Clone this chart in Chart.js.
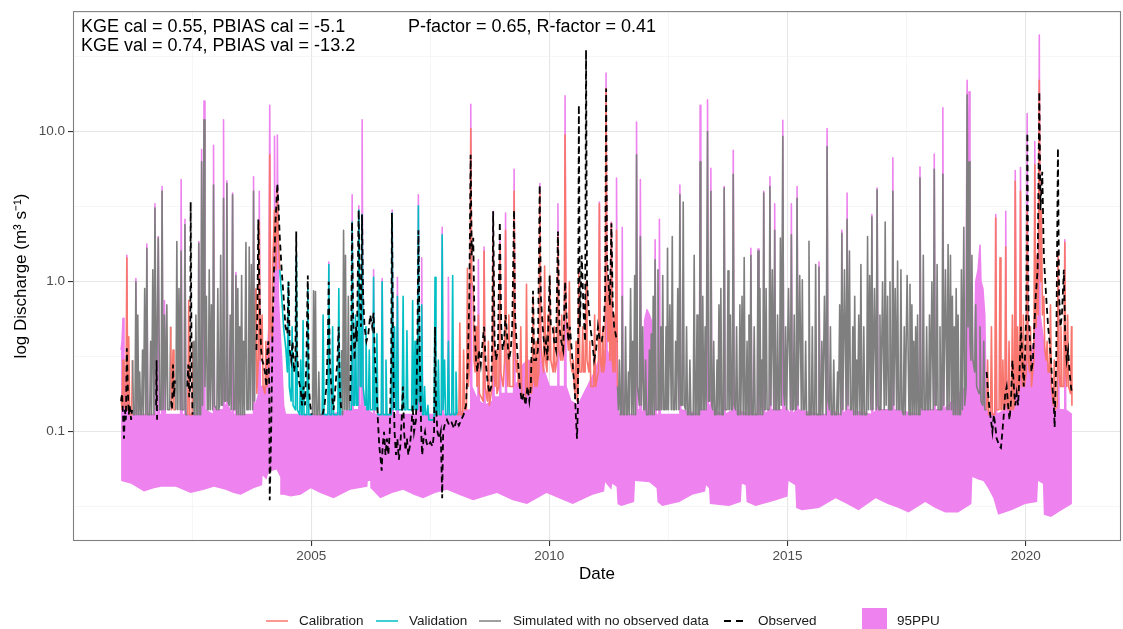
<!DOCTYPE html>
<html>
<head>
<meta charset="utf-8">
<script src="https://cdn.jsdelivr.net/npm/chart.js@4.4.1/dist/chart.umd.min.js"></script>
<style>
  html, body { margin: 0; padding: 0; background: #ffffff; }
  #wrap { width: 1123px; height: 629px; }
</style>
</head>
<body>
<div id="wrap"><canvas id="chart" width="1123" height="629"></canvas></div>
<script>
// ---- Daily discharge record, sampled at peaks and troughs (decimal year, m3/s) ----

// Simulated discharge (best run)
const simulated = [
[2001.01,0.17],[2001.03,0.14],[2001.05,0.3],[2001.07,0.15],[2001.11,0.14],[2001.13,1.44],[2001.15,0.14],[2001.17,0.43],[2001.19,0.13],[2001.23,0.13],[2001.25,0.3],[2001.27,0.13],[2001.30,0.13],[2001.32,1.0],[2001.34,0.13],[2001.36,0.6],[2001.38,0.13],[2001.40,0.25],[2001.42,0.13],[2001.44,0.13],[2001.46,0.35],[2001.48,0.13],[2001.505,0.9],[2001.53,0.13],[2001.55,1.67],[2001.57,0.13],[2001.61,0.13],[2001.63,0.4],[2001.65,0.13],[2001.675,1.2],[2001.70,0.13],[2001.72,3.1],[2001.75,0.14],[2001.79,1.95],[2001.82,0.14],[2001.85,0.14],[2001.87,4.0],[2001.89,0.14],[2001.92,0.6],[2001.94,0.14],[2001.97,0.7],[2001.99,0.14],
[2002.03,0.14],[2002.05,0.5],[2002.07,0.14],[2002.10,0.35],[2002.12,0.14],[2002.16,0.14],[2002.18,1.85],[2002.20,0.14],[2002.225,0.9],[2002.25,0.14],[2002.27,1.6],[2002.29,0.14],[2002.33,0.14],[2002.35,2.4],[2002.37,0.13],[2002.41,0.13],[2002.43,0.75],[2002.45,0.13],[2002.50,0.13],[2002.52,0.4],[2002.54,0.13],[2002.56,0.13],[2002.58,0.6],[2002.60,0.13],[2002.62,0.13],[2002.64,1.8],[2002.66,0.13],[2002.68,0.13],[2002.70,6.3],[2002.72,0.15],[2002.75,12.0],[2002.77,0.2],[2002.80,0.8],[2002.82,0.14],[2002.84,0.14],[2002.86,1.2],[2002.88,0.14],[2002.905,0.7],[2002.93,0.14],[2002.95,4.4],[2002.97,0.15],
[2003.02,0.14],[2003.04,0.9],[2003.06,0.14],[2003.08,0.15],[2003.10,1.5],[2003.12,0.15],[2003.14,0.15],[2003.16,3.6],[2003.18,0.16],[2003.21,0.16],[2003.23,4.5],[2003.25,0.16],[2003.28,0.15],[2003.30,0.6],[2003.32,0.14],[2003.35,3.8],[2003.37,0.14],[2003.40,0.14],[2003.42,1.1],[2003.44,0.13],[2003.46,0.9],[2003.48,0.13],[2003.50,0.5],[2003.52,0.13],[2003.54,1.1],[2003.56,0.13],[2003.58,0.4],[2003.60,0.13],[2003.61,0.13],[2003.63,1.82],[2003.65,0.14],[2003.68,0.14],[2003.70,1.7],[2003.72,0.14],[2003.745,1.3],[2003.77,0.14],[2003.79,4.0],[2003.81,0.16],[2003.84,0.9],[2003.86,0.18],[2003.89,0.3],[2003.91,2.5],[2003.93,0.3],[2003.97,0.6],[2003.99,0.2],
[2004.03,0.18],[2004.05,0.4],[2004.07,0.2],[2004.11,0.25],[2004.13,7.0],[2004.15,0.5],[2004.18,0.4],[2004.20,1.5],[2004.23,3.0],[2004.26,1.2],[2004.29,4.0],[2004.31,2.0],[2004.34,1.2],[2004.38,0.8],[2004.42,0.5],[2004.47,0.35],[2004.50,0.25],[2004.52,1.0],[2004.54,0.2],[2004.58,0.16],[2004.60,0.5],[2004.62,0.15],[2004.67,0.14],[2004.69,1.5],[2004.71,0.14],[2004.76,0.13],[2004.78,0.3],[2004.80,0.13],[2004.81,0.13],[2004.83,0.55],[2004.85,0.13],[2004.91,0.13],[2004.93,0.9],[2004.95,0.13],
[2005.03,0.13],[2005.05,0.87],[2005.07,0.13],[2005.09,0.86],[2005.11,0.13],[2005.14,0.13],[2005.16,0.25],[2005.18,0.13],[2005.23,0.13],[2005.25,0.6],[2005.27,0.13],[2005.35,0.13],[2005.37,1.3],[2005.39,0.13],[2005.43,0.13],[2005.45,0.5],[2005.47,0.13],[2005.56,0.13],[2005.58,0.9],[2005.60,0.13],[2005.62,0.13],[2005.64,0.35],[2005.66,0.13],[2005.68,2.2],[2005.70,0.14],[2005.72,1.5],[2005.74,0.14],[2005.76,0.14],[2005.78,0.8],[2005.80,0.14],[2005.84,0.14],[2005.86,2.5],[2005.88,0.15],[2005.91,0.15],[2005.93,0.6],[2005.95,0.15],[2005.98,0.15],[2006.00,3.0],[2006.03,0.2],
[2006.05,0.2],[2006.07,2.8],[2006.09,0.2],[2006.13,0.15],[2006.15,0.5],[2006.17,0.14],[2006.20,0.14],[2006.22,0.35],[2006.24,0.14],[2006.29,0.14],[2006.31,1.07],[2006.33,0.14],[2006.36,0.14],[2006.38,0.45],[2006.40,0.13],[2006.47,0.13],[2006.49,1.0],[2006.51,0.13],[2006.55,0.13],[2006.57,0.3],[2006.59,0.13],[2006.68,0.13],[2006.70,2.87],[2006.72,0.14],[2006.73,0.14],[2006.75,0.5],[2006.77,0.14],[2006.79,0.14],[2006.81,0.8],[2006.83,0.14],[2006.91,0.14],[2006.93,0.8],[2006.95,0.14],[2006.99,0.14],
[2007.01,0.47],[2007.03,0.14],[2007.11,0.14],[2007.13,0.75],[2007.15,0.14],[2007.16,0.14],[2007.18,0.4],[2007.20,0.14],[2007.23,0.14],[2007.25,3.2],[2007.27,0.16],[2007.30,0.15],[2007.32,0.7],[2007.34,0.13],[2007.36,0.13],[2007.38,0.2],[2007.40,0.13],[2007.43,0.13],[2007.45,0.15],[2007.47,0.12],[2007.58,0.12],[2007.60,1.07],[2007.62,0.13],[2007.65,0.13],[2007.67,0.3],[2007.69,0.13],[2007.73,0.13],[2007.75,2.05],[2007.77,0.14],[2007.78,0.14],[2007.80,0.3],[2007.82,0.13],[2007.86,0.13],[2007.88,0.4],[2007.90,0.13],[2007.95,0.13],[2007.97,1.1],[2007.99,0.13],
[2008.02,0.13],[2008.04,0.25],[2008.06,0.13],[2008.10,0.13],[2008.12,0.53],[2008.14,0.13],[2008.18,0.13],[2008.20,0.35],[2008.22,0.14],[2008.26,0.14],[2008.28,1.23],[2008.30,0.2],[2008.33,0.3],[2008.35,10.5],[2008.37,1.0],[2008.40,0.9],[2008.42,0.3],[2008.44,0.25],[2008.46,0.5],[2008.48,0.2],[2008.49,0.2],[2008.51,0.6],[2008.53,0.18],[2008.61,0.16],[2008.63,1.6],[2008.65,0.2],[2008.70,0.16],[2008.72,0.4],[2008.74,0.15],[2008.80,0.2],[2008.82,2.0],[2008.84,0.25],[2008.86,0.2],[2008.88,0.35],[2008.90,0.18],[2008.94,0.2],[2008.96,1.8],[2008.98,0.25],[2009.03,0.2],[2009.06,0.3],[2009.08,2.2],[2009.10,0.3],
[2009.13,0.2],[2009.15,0.6],[2009.17,0.2],[2009.24,0.2],[2009.26,4.0],[2009.28,0.35],[2009.31,0.25],[2009.33,0.3],[2009.35,0.2],[2009.38,0.2],[2009.40,0.5],[2009.42,0.18],[2009.50,0.16],[2009.52,0.96],[2009.54,0.2],[2009.58,0.18],[2009.60,0.3],[2009.62,0.18],[2009.64,0.2],[2009.66,0.8],[2009.68,0.22],[2009.70,0.2],[2009.72,0.4],[2009.74,0.2],[2009.78,0.25],[2009.80,4.0],[2009.82,0.4],[2009.85,0.3],[2009.88,0.25],[2009.90,1.27],[2009.92,0.3],[2009.95,0.25],[2009.97,0.6],[2009.99,0.3],
[2010.01,1.1],[2010.03,0.3],[2010.08,0.25],[2010.10,0.5],[2010.12,0.25],[2010.16,0.3],[2010.18,2.0],[2010.20,0.35],[2010.24,0.3],[2010.26,0.6],[2010.28,0.3],[2010.31,0.35],[2010.33,9.5],[2010.35,0.6],[2010.40,0.35],[2010.42,1.0],[2010.44,0.3],[2010.48,0.25],[2010.50,0.3],[2010.52,0.2],[2010.54,0.18],[2010.56,0.4],[2010.58,0.16],[2010.60,0.18],[2010.62,1.2],[2010.64,0.25],[2010.68,0.25],[2010.70,0.5],[2010.72,0.25],[2010.75,0.25],[2010.77,1.0],[2010.79,0.3],[2010.83,0.25],[2010.85,0.4],[2010.87,0.2],[2010.93,0.2],[2010.95,0.6],[2010.97,0.2],
[2011.03,0.25],[2011.05,3.3],[2011.07,0.3],[2011.10,0.25],[2011.12,0.5],[2011.14,0.25],[2011.17,0.3],[2011.19,19.4],[2011.21,0.6],[2011.23,0.4],[2011.25,1.0],[2011.27,0.3],[2011.28,0.3],[2011.30,2.45],[2011.32,0.3],[2011.34,0.25],[2011.36,0.6],[2011.38,0.25],[2011.39,0.25],[2011.41,2.2],[2011.43,0.2],[2011.45,0.14],[2011.47,0.3],[2011.49,0.13],[2011.51,0.13],[2011.53,0.8],[2011.55,0.13],[2011.58,0.13],[2011.60,0.5],[2011.62,0.13],[2011.64,0.13],[2011.66,0.25],[2011.68,0.13],[2011.705,0.9],[2011.73,0.13],[2011.75,0.4],[2011.77,0.13],[2011.79,1.1],[2011.81,0.13],[2011.83,7.0],[2011.85,0.2],[2011.89,0.15],[2011.91,2.0],[2011.93,0.15],[2011.94,0.15],[2011.96,0.5],[2011.98,0.14],
[2012.00,0.14],[2012.02,0.3],[2012.04,0.13],[2012.08,0.13],[2012.10,0.35],[2012.12,0.13],[2012.14,0.45],[2012.16,0.13],[2012.18,0.8],[2012.20,0.13],[2012.22,1.4],[2012.24,0.14],[2012.26,0.14],[2012.28,1.2],[2012.30,0.14],[2012.32,0.14],[2012.34,0.5],[2012.36,0.14],[2012.38,1.1],[2012.40,0.14],[2012.43,0.14],[2012.45,0.5],[2012.465,0.14],[2012.48,1.67],[2012.50,0.14],[2012.53,0.7],[2012.56,0.14],[2012.58,2.0],[2012.60,0.14],[2012.63,0.14],[2012.65,0.4],[2012.67,0.14],[2012.695,0.9],[2012.72,0.14],[2012.74,3.8],[2012.76,0.15],[2012.79,0.15],[2012.81,3.4],[2012.83,0.15],[2012.86,0.14],[2012.88,0.5],[2012.90,0.13],[2012.93,0.13],[2012.95,0.3],[2012.97,0.13],
[2013.02,0.13],[2013.04,1.5],[2013.06,0.13],[2013.08,0.13],[2013.10,0.6],[2013.12,0.13],[2013.15,0.13],[2013.165,6.3],[2013.18,0.14],[2013.20,0.14],[2013.22,0.8],[2013.24,0.14],[2013.25,0.14],[2013.27,0.5],[2013.29,0.14],[2013.30,0.14],[2013.32,10.0],[2013.34,0.16],[2013.37,0.16],[2013.39,4.0],[2013.41,0.15],[2013.43,0.14],[2013.45,0.4],[2013.47,0.13],[2013.50,0.13],[2013.52,0.3],[2013.54,0.13],[2013.56,0.7],[2013.58,0.13],[2013.60,0.9],[2013.62,0.13],[2013.65,0.13],[2013.67,4.2],[2013.69,0.14],[2013.73,0.14],[2013.75,1.18],[2013.77,0.14],[2013.78,0.14],[2013.80,0.6],[2013.82,0.14],[2013.84,0.14],[2013.86,5.2],[2013.88,0.15],[2013.91,0.14],[2013.93,0.5],[2013.95,0.13],[2013.98,0.13],
[2014.00,0.7],[2014.02,0.13],[2014.045,0.8],[2014.07,0.13],[2014.09,1.45],[2014.11,0.13],[2014.13,0.13],[2014.15,0.4],[2014.17,0.13],[2014.19,0.6],[2014.21,0.13],[2014.23,1.5],[2014.25,0.13],[2014.28,0.13],[2014.30,0.5],[2014.32,0.13],[2014.36,0.13],[2014.38,1.6],[2014.40,0.13],[2014.42,0.9],[2014.44,0.13],[2014.46,0.3],[2014.48,0.13],[2014.50,3.9],[2014.52,0.14],[2014.53,0.14],[2014.55,0.9],[2014.57,0.14],[2014.61,0.14],[2014.63,4.3],[2014.65,0.15],[2014.68,1.2],[2014.71,0.14],[2014.73,2.2],[2014.75,0.14],[2014.77,0.14],[2014.79,0.6],[2014.81,0.14],[2014.83,0.14],[2014.85,1.95],[2014.87,0.15],[2014.88,0.15],[2014.90,9.3],[2014.92,0.18],[2014.94,0.15],[2014.96,0.5],[2014.98,0.14],
[2015.02,0.9],[2015.06,0.14],[2015.08,2.05],[2015.10,0.14],[2015.12,0.14],[2015.14,0.6],[2015.16,0.14],[2015.18,0.14],[2015.20,3.6],[2015.22,0.15],[2015.255,1.1],[2015.29,0.14],[2015.31,1.03],[2015.33,0.14],[2015.36,0.14],[2015.38,0.4],[2015.40,0.13],[2015.43,0.13],[2015.45,1.86],[2015.47,0.13],[2015.50,0.13],[2015.52,0.5],[2015.54,0.13],[2015.57,0.13],[2015.59,1.3],[2015.61,0.13],[2015.64,0.13],[2015.66,1.25],[2015.68,0.13],[2015.70,0.13],[2015.72,0.4],[2015.74,0.13],[2015.775,0.8],[2015.81,0.13],[2015.83,7.95],[2015.85,0.16],[2015.88,0.14],[2015.90,0.5],[2015.92,0.13],[2015.95,0.13],[2015.97,0.3],[2015.99,0.13],
[2016.03,0.13],[2016.05,0.25],[2016.07,0.13],[2016.095,0.7],[2016.12,0.13],[2016.14,2.1],[2016.16,0.14],[2016.195,1.2],[2016.23,0.14],[2016.25,2.6],[2016.27,0.15],[2016.28,0.15],[2016.30,1.6],[2016.32,0.14],[2016.35,0.14],[2016.37,0.5],[2016.39,0.13],[2016.41,0.8],[2016.43,0.13],[2016.45,0.3],[2016.47,0.13],[2016.495,0.6],[2016.52,0.13],[2016.54,1.3],[2016.56,0.13],[2016.58,0.13],[2016.60,0.5],[2016.62,0.13],[2016.66,0.13],[2016.68,2.0],[2016.70,0.14],[2016.725,1.1],[2016.75,0.14],[2016.77,2.7],[2016.79,0.14],[2016.825,0.9],[2016.86,0.14],[2016.88,4.1],[2016.90,0.15],[2016.92,0.14],[2016.94,0.6],[2016.96,0.14],
[2016.995,1.0],[2017.03,0.14],[2017.05,2.5],[2017.07,0.15],[2017.08,0.15],[2017.10,0.8],[2017.12,0.14],[2017.13,0.14],[2017.15,1.0],[2017.17,0.14],[2017.19,0.14],[2017.21,4.0],[2017.23,0.15],[2017.26,0.9],[2017.29,0.14],[2017.31,1.37],[2017.33,0.14],[2017.36,0.14],[2017.38,1.2],[2017.40,0.14],[2017.43,0.13],[2017.45,0.5],[2017.47,0.13],[2017.51,1.1],[2017.55,0.13],[2017.57,0.96],[2017.59,0.13],[2017.61,0.7],[2017.63,0.13],[2017.65,0.4],[2017.67,0.13],[2017.69,0.5],[2017.71,0.13],[2017.73,0.6],[2017.75,0.13],[2017.76,0.13],[2017.78,4.9],[2017.80,0.15],[2017.83,0.14],[2017.85,1.5],[2017.87,0.14],[2017.90,0.14],[2017.92,0.5],[2017.94,0.14],[2017.96,0.14],[2017.98,0.6],[2018.00,0.14],
[2018.03,1.0],[2018.06,0.14],[2018.08,5.6],[2018.10,0.15],[2018.12,0.15],[2018.14,1.3],[2018.16,0.14],[2018.18,0.14],[2018.20,0.5],[2018.22,0.14],[2018.24,0.14],[2018.26,5.2],[2018.28,0.15],[2018.315,1.2],[2018.35,0.14],[2018.37,1.77],[2018.39,0.14],[2018.40,0.14],[2018.42,1.5],[2018.44,0.14],[2018.46,0.8],[2018.48,0.13],[2018.50,0.5],[2018.52,0.13],[2018.54,0.9],[2018.56,0.13],[2018.58,0.6],[2018.60,0.13],[2018.63,0.13],[2018.65,1.2],[2018.67,0.14],[2018.68,0.14],[2018.70,2.3],[2018.72,0.15],[2018.75,0.2],[2018.77,17.6],[2018.79,0.5],[2018.81,6.3],[2018.83,0.4],[2018.85,0.3],[2018.87,1.5],[2018.89,0.3],[2018.93,0.25],[2018.95,0.7],[2018.97,0.2],
[2019.02,0.18],[2019.04,0.5],[2019.06,0.16],[2019.10,0.15],[2019.12,0.4],[2019.14,0.14],[2019.18,0.14],[2019.20,0.3],[2019.22,0.13],[2019.26,0.13],[2019.28,0.5],[2019.30,0.13],[2019.35,0.13],[2019.37,2.67],[2019.39,0.14],[2019.44,0.14],[2019.46,1.44],[2019.48,0.14],[2019.50,0.14],[2019.52,0.3],[2019.54,0.14],[2019.56,0.14],[2019.58,1.7],[2019.60,0.15],[2019.63,0.14],[2019.65,0.4],[2019.67,0.14],[2019.70,0.14],[2019.72,0.6],[2019.74,0.14],[2019.76,0.15],[2019.78,4.66],[2019.80,0.2],[2019.81,0.18],[2019.83,0.5],[2019.85,0.18],[2019.87,0.2],[2019.89,4.0],[2019.91,0.25],[2019.93,0.2],[2019.95,0.6],[2019.97,0.2],
[2020.01,0.25],[2020.03,3.0],[2020.05,0.3],[2020.08,0.25],[2020.10,0.5],[2020.12,0.2],[2020.17,0.3],[2020.19,6.0],[2020.21,0.5],[2020.22,0.5],[2020.24,1.5],[2020.26,0.6],[2020.285,22],[2020.31,1.0],[2020.33,3.0],[2020.35,0.6],[2020.38,0.8],[2020.40,0.35],[2020.43,0.3],[2020.45,0.4],[2020.47,0.25],[2020.50,0.25],[2020.52,0.7],[2020.54,0.2],[2020.58,0.15],[2020.60,0.3],[2020.62,0.14],[2020.66,0.15],[2020.68,1.5],[2020.70,0.25],[2020.72,0.2],[2020.74,0.5],[2020.76,0.2],[2020.80,0.2],[2020.82,1.82],[2020.84,0.25],[2020.86,0.2],[2020.88,0.6],[2020.90,0.2],[2020.94,0.18],[2020.96,0.5],[2020.97,0.15]
];

// Upper limit of the 95 % prediction uncertainty band
const ppuUpper = [
[2001.01,0.35],[2001.03,0.4],[2001.05,0.57],[2001.07,0.3],[2001.10,0.2],[2001.12,0.18],[2001.13,1.5],[2001.15,0.13],
[2001.31,0.13],[2001.32,1.05],[2001.34,0.13],[2001.54,0.13],[2001.55,1.78],[2001.57,0.13],
[2001.71,0.13],[2001.72,3.3],[2001.74,0.13],[2001.78,0.13],[2001.79,2.0],[2001.81,0.13],[2001.86,0.13],[2001.87,4.3],[2001.89,0.13],[2001.91,0.13],[2001.92,0.75],[2001.94,0.13],
[2002.26,0.13],[2002.27,4.8],[2002.29,0.13],[2002.34,0.13],[2002.35,2.6],[2002.37,0.13],
[2002.63,0.13],[2002.64,1.85],[2002.66,0.13],[2002.69,0.13],[2002.70,7.6],[2002.72,0.14],[2002.74,0.14],[2002.75,16],[2002.77,0.14],[2002.94,0.13],[2002.95,8.1],[2002.97,0.14],
[2003.15,0.14],[2003.16,12],[2003.18,0.15],[2003.22,0.15],[2003.23,4.7],[2003.25,0.15],[2003.34,0.13],[2003.35,3.9],[2003.37,0.13],[2003.41,0.13],[2003.42,1.15],[2003.44,0.13],
[2003.78,0.13],[2003.79,5.0],[2003.81,0.14],[2003.90,0.18],[2003.91,4.0],[2003.93,0.2],
[2004.06,0.2],[2004.08,0.3],[2004.11,0.5],[2004.13,15],[2004.15,0.6],[2004.20,0.6],[2004.22,0.65],[2004.23,9.3],[2004.25,0.7],[2004.28,0.8],[2004.29,9.5],[2004.31,0.8],[2004.34,0.5],[2004.38,0.3],[2004.42,0.15],[2004.46,0.13],
[2005.36,0.13],[2005.37,1.35],[2005.39,0.13],
[2005.85,0.14],[2005.86,3.8],[2005.88,0.14],[2005.99,0.14],[2006.00,3.2],[2006.02,0.15],[2006.06,0.15],[2006.07,12],[2006.09,0.15],
[2006.30,0.13],[2006.31,1.2],[2006.33,0.13],[2006.48,0.13],[2006.49,1.05],[2006.51,0.13],[2006.69,0.13],[2006.70,3.0],[2006.72,0.13],[2006.80,0.13],[2006.81,1.07],[2006.83,0.13],
[2007.24,0.13],[2007.25,3.8],[2007.27,0.14],[2007.31,0.14],[2007.32,1.44],[2007.34,0.13],[2007.74,0.13],[2007.75,2.3],[2007.77,0.13],[2007.87,0.13],[2007.88,1.07],[2007.90,0.13],
[2008.34,0.14],[2008.35,15.2],[2008.37,0.2],[2008.50,0.16],[2008.51,1.4],[2008.53,0.16],[2008.62,0.15],[2008.63,1.7],[2008.65,0.15],[2008.81,0.16],[2008.82,2.95],[2008.84,0.17],[2008.95,0.17],[2008.96,2.0],[2008.98,0.18],[2009.07,0.18],[2009.08,2.87],[2009.10,0.18],[2009.25,0.18],[2009.26,5.6],[2009.28,0.2],
[2009.35,0.22],[2009.45,0.28],[2009.55,0.3],[2009.65,0.28],[2009.75,0.3],[2009.79,0.3],[2009.80,4.5],[2009.82,0.3],[2009.90,0.25],[2010.00,0.2],[2010.10,0.2],[2010.17,0.2],[2010.18,3.3],[2010.20,0.2],[2010.32,0.2],[2010.33,17.3],[2010.35,0.2],[2010.45,0.16],[2010.60,0.15],[2010.80,0.2],[2010.95,0.25],[2011.04,0.3],[2011.05,3.4],[2011.07,0.3],[2011.18,0.35],[2011.19,24.6],[2011.21,0.35],[2011.29,0.3],[2011.30,2.5],[2011.32,0.3],[2011.40,0.25],[2011.41,4.9],[2011.43,0.15],[2011.46,0.13],
[2011.52,0.13],[2011.53,2.3],[2011.55,0.13],[2011.82,0.13],[2011.83,11.6],[2011.85,0.14],[2011.90,0.14],[2011.91,4.8],[2011.93,0.14],[2011.98,0.13],[2012.00,0.55],[2012.05,0.65],[2012.10,0.6],[2012.14,0.55],[2012.16,0.13],
[2012.21,0.13],[2012.22,1.9],[2012.24,0.13],[2012.30,0.13],[2012.31,2.6],[2012.33,0.13],[2012.73,0.13],[2012.74,4.4],[2012.76,0.14],
[2013.15,0.13],[2013.165,15],[2013.18,0.14],[2013.31,0.14],[2013.32,16.3],[2013.34,0.15],[2013.38,0.15],[2013.39,5.7],[2013.41,0.14],[2013.66,0.13],[2013.67,4.3],[2013.69,0.13],[2013.85,0.14],[2013.86,7.5],[2013.88,0.14],
[2014.22,0.13],[2014.23,1.67],[2014.25,0.13],[2014.37,0.13],[2014.38,1.65],[2014.40,0.13],[2014.49,0.13],[2014.50,4.0],[2014.52,0.13],[2014.62,0.14],[2014.63,5.0],[2014.65,0.14],[2014.72,0.14],[2014.73,3.3],[2014.75,0.14],[2014.89,0.14],[2014.90,11.9],[2014.92,0.15],
[2015.07,0.13],[2015.08,3.3],[2015.10,0.13],[2015.19,0.14],[2015.20,4.3],[2015.22,0.14],[2015.65,0.13],[2015.66,1.35],[2015.68,0.13],[2015.82,0.13],[2015.83,10.5],[2015.85,0.14],
[2016.13,0.13],[2016.14,2.2],[2016.16,0.13],[2016.24,0.14],[2016.25,3.9],[2016.27,0.14],[2016.76,0.13],[2016.77,2.8],[2016.79,0.13],[2016.87,0.14],[2016.88,4.2],[2016.90,0.14],
[2017.20,0.14],[2017.21,6.7],[2017.23,0.14],[2017.77,0.13],[2017.78,5.8],[2017.80,0.14],
[2018.07,0.14],[2018.08,7.1],[2018.10,0.14],[2018.25,0.14],[2018.26,14.4],[2018.28,0.14],[2018.74,0.2],[2018.77,22],[2018.79,0.6],[2018.81,18.4],[2018.83,0.4],[2018.88,0.3],[2018.92,0.3],[2018.95,1.0],[2019.00,1.2],[2019.04,1.75],[2019.06,1.0],[2019.10,0.9],[2019.14,0.6],[2019.17,0.14],
[2019.36,0.13],[2019.37,2.8],[2019.39,0.13],[2019.57,0.14],[2019.58,2.95],[2019.60,0.14],[2019.77,0.15],[2019.78,5.5],[2019.80,0.2],[2019.88,0.2],[2019.89,5.76],[2019.91,0.25],[2019.97,0.3],[2020.02,0.3],[2020.03,13.2],[2020.05,0.3],[2020.18,0.4],[2020.19,8.6],[2020.21,0.5],[2020.27,0.6],[2020.285,44],[2020.30,0.6],[2020.40,0.35],[2020.50,0.25],[2020.60,0.14],[2020.67,0.14],[2020.68,1.6],[2020.70,0.14],[2020.81,0.14],[2020.82,1.9],[2020.84,0.14],[2020.97,0.13]
];

// Lower limit of the 95 % prediction uncertainty band
const ppuLower = [
[2001.01,0.047],[2001.22,0.045],[2001.49,0.040],[2001.70,0.042],[2001.85,0.043],[2002.16,0.043],[2002.47,0.039],[2002.75,0.041],[2002.96,0.043],[2003.20,0.041],[2003.37,0.039],[2003.52,0.038],[2003.79,0.042],[2003.97,0.044],[2003.98,0.051],[2004.06,0.048],[2004.12,0.055],[2004.19,0.055],[2004.27,0.056],[2004.35,0.05],[2004.36,0.038],[2004.42,0.038],[2004.57,0.037],[2004.78,0.038],[2004.99,0.042],[2005.19,0.039],[2005.47,0.036],[2005.82,0.041],[2006.18,0.043],[2006.19,0.047],[2006.24,0.047],[2006.25,0.042],[2006.45,0.036],[2006.70,0.039],[2006.93,0.041],[2007.15,0.038],[2007.35,0.036],[2007.60,0.039],[2007.85,0.041],[2008.10,0.038],[2008.40,0.035],[2008.65,0.037],[2008.90,0.039],[2009.23,0.035],[2009.53,0.033],[2009.94,0.039],[2010.20,0.036],[2010.49,0.033],[2010.91,0.038],[2011.15,0.040],[2011.17,0.046],[2011.30,0.041],[2011.32,0.045],[2011.41,0.043],[2011.43,0.033],[2011.51,0.032],[2011.78,0.034],[2011.80,0.047],[2012.10,0.046],[2012.25,0.042],[2012.27,0.034],[2012.37,0.032],[2012.73,0.034],[2013.00,0.038],[2013.27,0.040],[2013.29,0.044],[2013.35,0.042],[2013.37,0.033],[2013.77,0.032],[2014.02,0.034],[2014.04,0.045],[2014.12,0.044],[2014.14,0.034],[2014.33,0.032],[2014.76,0.035],[2015.00,0.037],[2015.02,0.047],[2015.16,0.044],[2015.18,0.031],[2015.30,0.030],[2015.66,0.031],[2016.01,0.036],[2016.25,0.033],[2016.49,0.030],[2016.85,0.036],[2017.10,0.033],[2017.33,0.031],[2017.54,0.029],[2017.89,0.034],[2018.10,0.031],[2018.31,0.029],[2018.58,0.029],[2018.86,0.033],[2018.88,0.05],[2019.00,0.048],[2019.11,0.047],[2019.21,0.042],[2019.32,0.036],[2019.42,0.028],[2019.70,0.030],[2019.99,0.033],[2020.24,0.034],[2020.26,0.047],[2020.36,0.045],[2020.38,0.028],[2020.53,0.027],[2020.75,0.030],[2020.97,0.033]
];

// Observed discharge at the gauge (null = no record)
const observed = [
[2001.01,0.16],[2001.03,0.18],[2001.05,0.13],[2001.07,0.09],[2001.09,0.14],[2001.11,0.12],[2001.13,0.36],[2001.15,0.2],[2001.17,0.13],[2001.19,0.15],[2001.22,0.12],[2001.24,0.14],[2001.25,null],
[2001.745,0.15],[2001.755,0.3],[2001.765,0.12],[2001.78,null],
[2002.06,0.16],[2002.08,0.14],[2002.10,0.28],[2002.12,0.17],[2002.14,0.22],[2002.15,null],
[2002.40,0.2],[2002.42,0.28],[2002.44,0.17],[2002.46,0.2],[2002.47,3.4],[2002.49,0.25],[2002.51,0.13],[2002.52,null],
[2003.85,0.35],[2003.87,0.6],[2003.89,2.6],[2003.91,1.0],[2003.93,0.5],[2003.95,0.35],[2003.97,0.3],[2004.00,0.28],[2004.03,0.25],[2004.06,0.2],[2004.08,0.35],[2004.10,0.4],[2004.12,0.2],[2004.13,0.035],[2004.16,0.1],[2004.19,0.5],[2004.22,1.2],[2004.25,2.5],[2004.29,4.5],[2004.31,3.4],[2004.34,2.0],[2004.38,1.2],[2004.42,0.8],[2004.46,0.5],[2004.50,0.45],[2004.525,1.0],[2004.55,0.35],[2004.58,0.3],[2004.61,0.4],[2004.64,0.25],[2004.67,0.3],[2004.686,2.16],[2004.70,0.35],[2004.74,0.22],[2004.78,0.19],[2004.81,0.15],[2004.84,0.2],[2004.87,0.15],[2004.90,0.3],[2004.929,1.1],[2004.95,0.2],[2004.98,0.15],[2005.01,0.13],[2005.02,null],
[2005.24,0.13],[2005.28,0.15],[2005.32,0.2],[2005.35,0.4],[2005.368,1.0],[2005.39,0.3],[2005.43,0.18],[2005.47,0.14],[2005.51,0.2],[2005.55,0.3],[2005.577,0.5],[2005.60,0.2],[2005.63,0.14],[2005.64,null],
[2005.82,0.16],[2005.84,0.4],[2005.858,2.5],[2005.88,0.6],[2005.91,0.3],[2005.94,0.5],[2005.96,0.4],[2005.996,3.0],[2006.02,0.8],[2006.045,0.5],[2006.067,2.8],[2006.09,0.8],[2006.12,0.5],[2006.16,0.4],[2006.20,0.45],[2006.24,0.6],[2006.28,0.5],[2006.31,0.62],[2006.34,0.3],[2006.37,0.2],[2006.40,0.12],[2006.43,0.08],[2006.46,0.065],[2006.48,0.055],[2006.50,0.08],[2006.53,0.1],[2006.56,0.07],[2006.59,0.09],[2006.62,0.07],[2006.65,0.1],[2006.68,0.3],[2006.695,2.87],[2006.72,0.3],[2006.75,0.1],[2006.78,0.07],[2006.81,0.09],[2006.84,0.065],[2006.87,0.08],[2006.90,0.12],[2006.925,0.2],[2006.95,0.1],[2006.98,0.075],[2007.01,0.09],[2007.04,0.07],[2007.07,0.08],[2007.10,0.1],[2007.13,0.15],[2007.16,0.1],[2007.20,0.12],[2007.23,0.4],[2007.251,2.2],[2007.28,0.3],[2007.31,0.1],[2007.33,0.07],[2007.36,0.09],[2007.39,0.1],[2007.42,0.085],[2007.45,0.08],[2007.50,0.085],[2007.55,0.08],[2007.58,0.1],[2007.60,0.5],[2007.62,0.15],[2007.65,0.1],[2007.69,0.09],[2007.72,0.1],[2007.75,0.036],[2007.77,0.1],[2007.80,0.11],[2007.85,0.12],[2007.90,0.11],[2007.95,0.115],[2008.00,0.105],[2008.05,0.12],[2008.10,0.11],[2008.15,0.12],[2008.20,0.13],[2008.25,0.15],[2008.29,0.3],[2008.32,0.8],[2008.347,7.0],[2008.37,1.5],[2008.402,1.96],[2008.43,0.5],[2008.46,0.3],[2008.49,0.25],[2008.52,0.35],[2008.56,0.28],[2008.60,0.4],[2008.63,0.5],[2008.66,0.3],[2008.70,0.22],[2008.74,0.18],[2008.78,0.2],[2008.80,0.4],[2008.82,2.95],[2008.85,0.4],[2008.88,0.3],[2008.92,0.35],[2008.96,2.5],[2008.99,0.5],[2009.02,0.35],[2009.05,0.4],[2009.08,0.6],[2009.11,0.45],[2009.15,0.3],[2009.19,0.35],[2009.22,0.5],[2009.259,3.0],[2009.28,0.6],[2009.31,0.4],[2009.34,0.3],[2009.38,0.2],[2009.42,0.16],[2009.46,0.18],[2009.50,0.15],[2009.54,0.2],[2009.58,0.16],[2009.61,0.2],[2009.657,0.87],[2009.68,0.3],[2009.72,0.3],[2009.76,0.35],[2009.797,4.4],[2009.82,0.8],[2009.86,0.5],[2009.90,0.35],[2009.93,0.4],[2009.96,0.3],[2010.006,1.1],[2010.03,0.5],[2010.07,0.5],[2010.10,0.4],[2010.14,0.35],[2010.18,2.16],[2010.21,0.5],[2010.25,0.4],[2010.29,0.35],[2010.33,1.0],[2010.36,0.6],[2010.40,0.4],[2010.43,0.5],[2010.47,0.35],[2010.50,0.25],[2010.53,0.2],[2010.56,0.12],[2010.58,0.09],[2010.60,0.15],[2010.619,15.0],[2010.64,0.5],[2010.68,1.5],[2010.72,0.6],[2010.75,0.4],[2010.77,35],[2010.79,1.0],[2010.82,0.7],[2010.86,0.5],[2010.90,0.4],[2010.94,0.3],[2010.98,0.35],[2011.02,0.5],[2011.06,0.4],[2011.10,0.4],[2011.14,0.5],[2011.17,0.8],[2011.192,19.4],[2011.21,1.5],[2011.24,1.0],[2011.27,0.7],[2011.303,2.45],[2011.33,0.7],[2011.36,0.5],[2011.39,0.45],[2011.42,0.4],[2011.43,null],
[2019.18,0.25],[2019.21,0.18],[2019.24,0.14],[2019.27,0.12],[2019.30,0.1],[2019.33,0.13],[2019.36,0.11],[2019.39,0.09],[2019.42,0.085],[2019.45,0.08],[2019.48,0.078],[2019.51,0.1],[2019.54,0.13],[2019.57,0.18],[2019.60,0.2],[2019.63,0.15],[2019.66,0.12],[2019.69,0.16],[2019.72,0.3],[2019.75,0.2],[2019.78,0.15],[2019.81,0.18],[2019.84,0.15],[2019.87,0.25],[2019.90,0.5],[2019.93,0.3],[2019.96,0.2],[2019.99,0.35],[2020.01,0.6],[2020.034,9.8],[2020.06,0.6],[2020.09,0.4],[2020.12,0.25],[2020.15,0.3],[2020.18,0.5],[2020.21,0.8],[2020.25,1.2],[2020.285,18.4],[2020.31,3.0],[2020.347,5.4],[2020.38,1.5],[2020.41,1.0],[2020.44,0.7],[2020.47,0.5],[2020.50,0.4],[2020.53,0.3],[2020.56,0.2],[2020.59,0.15],[2020.607,0.107],[2020.64,0.3],[2020.676,7.75],[2020.70,0.8],[2020.73,0.5],[2020.76,0.6],[2020.80,1.2],[2020.83,0.4],[2020.86,0.3],[2020.89,0.35],[2020.92,0.25],[2020.95,0.2],[2020.97,0.18]
];

// Split of the observed record into calibration / validation
const validationPeriod = [2004.33, 2008.05];

// Axis ticks and labels
const xLabelYears = [2005, 2010, 2015, 2020];
const xMinorYears = [2002.5, 2007.5, 2012.5, 2017.5];
const yLabelValues = [0.1, 1, 10];
const yLabelTexts = ['0.1', '1.0', '10.0'];
const yMinorExponents = [-1.5, -0.5, 0.5, 1.5];

// Text
const statsLines = ['KGE cal = 0.55, PBIAS cal = -5.1', 'KGE val = 0.74, PBIAS val = -13.2'];
const statsRight = 'P-factor = 0.65, R-factor = 0.41';
const legendLabels = ['Calibration', 'Validation', 'Simulated with no observed data', 'Observed', '95PPU'];
const xTitle = 'Date';
const yTitle = 'log Discharge (m\u00B3 s\u207B\u00B9)';

// Style
const FONT = '"Liberation Sans", Arial, Helvetica, sans-serif';
const RED = '#F8766D', CYAN = '#00BFC4', GRAY = '#7f7f7f', PINK = '#EE82EE';

// stretches of time that have an observed record
const obsRuns = [];
(function () {
  let start = null, last = null;
  observed.forEach(p => {
    if (p[1] === null) { if (start !== null) obsRuns.push([start, last]); start = null; }
    else { if (start === null) start = p[0]; last = p[0]; }
  });
  if (start !== null) obsRuns.push([start, last]);
})();

function simSegmentColor(ctx) {
  const m = (ctx.p0.parsed.x + ctx.p1.parsed.x) / 2;
  const hasObs = obsRuns.some(r => m >= r[0] && m <= r[1]);
  if (!hasObs) return GRAY;
  return (m >= validationPeriod[0] && m <= validationPeriod[1]) ? CYAN : RED;
}

const near = (a, b) => Math.abs(Math.log10(a) - Math.log10(b)) < 1e-6;
const isMajorY = v => yLabelValues.some(t => near(v, t));
const isMajorX = v => xLabelYears.some(t => Math.abs(v - t) < 1e-6);

const decor = {
  id: 'decor',
  afterDraw(chart) {
    const c = chart.ctx, a = chart.chartArea;
    c.save();
    // panel border
    c.strokeStyle = '#808080';
    c.lineWidth = 1.1;
    c.strokeRect(a.left + 0.5, a.top + 0.5, a.right - a.left - 1, a.bottom - a.top - 1);

    // statistics
    c.fillStyle = '#000000';
    c.font = '18px ' + FONT;
    c.textBaseline = 'alphabetic';
    c.textAlign = 'left';
    c.fillText(statsLines[0], 81, 32);
    c.fillText(statsLines[1], 81, 51);
    c.fillText(statsRight, 408, 32);

    // axis titles
    c.fillStyle = '#000000';
    c.font = '17px ' + FONT;
    c.textAlign = 'center';
    c.fillText(xTitle, (a.left + a.right) / 2, 579);
    c.save();
    c.translate(26, (a.top + a.bottom) / 2);
    c.rotate(-Math.PI / 2);
    c.fillText(yTitle, 0, 0);
    c.restore();

    // legend
    const ly = 621;
    c.font = '13.5px ' + FONT;
    c.textAlign = 'left';
    c.textBaseline = 'middle';
    c.fillStyle = '#1a1a1a';
    const lineKey = (x0, color, dash, w) => {
      c.save();
      c.strokeStyle = color; c.lineWidth = w; c.setLineDash(dash);
      c.beginPath(); c.moveTo(x0, ly); c.lineTo(x0 + 22, ly); c.stroke();
      c.restore();
    };
    lineKey(266, RED, [], 1.5);
    c.fillText(legendLabels[0], 299, ly);
    lineKey(376, CYAN, [], 1.5);
    c.fillText(legendLabels[1], 409, ly);
    lineKey(479, GRAY, [], 1.5);
    c.fillText(legendLabels[2], 513, ly);
    lineKey(724, '#000000', [7, 5], 1.8);
    c.fillText(legendLabels[3], 758, ly);
    c.fillStyle = PINK;
    c.fillRect(862, 608, 25, 25);
    c.fillStyle = '#1a1a1a';
    c.fillText(legendLabels[4], 897, ly);
    c.restore();
  }
};

new Chart(document.getElementById('chart'), {
  type: 'line',
  data: {
    datasets: [
      { label: legendLabels[3], data: observed, borderColor: '#000000', borderWidth: 1.8,
        borderDash: [6, 4], pointRadius: 0, spanGaps: false, fill: false, tension: 0 },
      { label: 'Simulated', data: simulated, borderColor: GRAY, borderWidth: 1.6,
        pointRadius: 0, fill: false, tension: 0, borderJoinStyle: 'round',
        segment: { borderColor: simSegmentColor } },
      { label: legendLabels[4], data: ppuUpper, borderColor: PINK, borderWidth: 1.6,
        borderJoinStyle: 'round', backgroundColor: PINK, pointRadius: 0, fill: '+1', tension: 0 },
      { label: '95PPU lower', data: ppuLower, borderColor: 'rgba(0,0,0,0)', borderWidth: 0.01,
        pointRadius: 0, fill: false, tension: 0 }
    ]
  },
  options: {
    responsive: false,
    animation: false,
    events: [],
    layout: { padding: { left: 0, right: 2, top: 9, bottom: 38 } },
    plugins: { legend: { display: false }, tooltip: { enabled: false } },
    scales: {
      x: {
        type: 'linear', min: 2000, max: 2022,
        afterBuildTicks: s => {
          s.ticks = xMinorYears.concat(xLabelYears).sort((p, q) => p - q).map(v => ({ value: v }));
        },
        afterFit: s => { s.height = 50; },
        ticks: {
          autoSkip: false, maxRotation: 0, padding: 2, color: '#4d4d4d',
          font: { family: FONT, size: 13.5 },
          callback: v => isMajorX(v) ? String(v) : ''
        },
        grid: {
          color: c => isMajorX(c.tick.value) ? '#e6e6e6' : '#f0f0f0',
          lineWidth: c => isMajorX(c.tick.value) ? 1.1 : 0.6,
          tickColor: c => isMajorX(c.tick.value) ? '#333333' : 'rgba(0,0,0,0)',
          tickLength: 5, tickWidth: 1.1
        },
        border: { display: false }
      },
      y: {
        type: 'logarithmic', min: 0.0187, max: 63.56,
        afterBuildTicks: s => {
          const vals = yLabelValues.concat(yMinorExponents.map(e => Math.pow(10, e)));
          s.ticks = vals.sort((p, q) => p - q).map(v => ({ value: v }));
        },
        afterFit: s => { s.width = 73; },
        ticks: {
          autoSkip: false, padding: 3, color: '#4d4d4d',
          font: { family: FONT, size: 13.5 },
          callback: v => {
            const i = yLabelValues.findIndex(t => near(v, t));
            return i >= 0 ? yLabelTexts[i] : '';
          }
        },
        grid: {
          color: c => isMajorY(c.tick.value) ? '#e6e6e6' : '#f0f0f0',
          lineWidth: c => isMajorY(c.tick.value) ? 1.1 : 0.6,
          tickColor: c => isMajorY(c.tick.value) ? '#333333' : 'rgba(0,0,0,0)',
          tickLength: 5, tickWidth: 1.1
        },
        border: { display: false }
      }
    }
  },
  plugins: [decor]
});
</script>
</body>
</html>
